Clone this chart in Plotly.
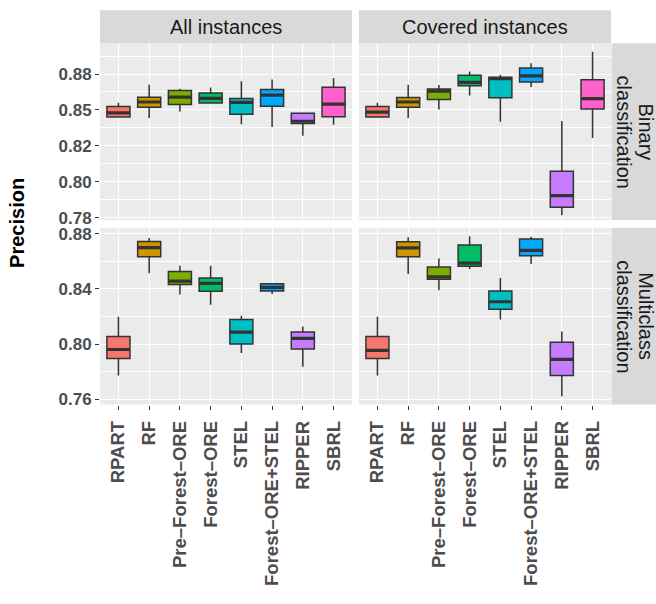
import plotly.graph_objects as go

# ---------------- data ----------------
methods = ["RPART", "RF", "Pre–Forest–ORE", "Forest–ORE", "STEL",
           "Forest–ORE+STEL", "RIPPER", "SBRL"]
colors = ["#F8766D", "#CD9600", "#7CAE00", "#00BE67", "#00BFC4",
          "#00A9FF", "#C77CFF", "#FF61CC"]

col_labels = ["All instances", "Covered instances"]
row_labels = [["Binary", "classification"], ["Multiclass", "classification"]]

# Binary classification, all instances
bin_all_lo  = [0.8448, 0.8444, 0.8489, 0.8549, 0.8400, 0.8381, 0.8320, 0.8397]
bin_all_q1  = [0.8450, 0.8519, 0.8537, 0.8549, 0.8470, 0.8526, 0.8405, 0.8452]
bin_all_med = [0.8480, 0.8555, 0.8589, 0.8581, 0.8552, 0.8603, 0.8421, 0.8540]
bin_all_q3  = [0.8523, 0.8589, 0.8636, 0.8617, 0.8579, 0.8642, 0.8477, 0.8657]
bin_all_hi  = [0.8550, 0.8676, 0.8647, 0.8656, 0.8700, 0.8712, 0.8477, 0.8723]

# Binary classification, covered instances
bin_cov_lo  = [0.8448, 0.8444, 0.8503, 0.8600, 0.8418, 0.8660, 0.7767, 0.8304]
bin_cov_q1  = [0.8450, 0.8519, 0.8572, 0.8669, 0.8585, 0.8694, 0.7822, 0.8507]
bin_cov_med = [0.8484, 0.8555, 0.8631, 0.8692, 0.8717, 0.8737, 0.7904, 0.8578]
bin_cov_q3  = [0.8523, 0.8587, 0.8645, 0.8742, 0.8728, 0.8792, 0.8073, 0.8710]
bin_cov_hi  = [0.8550, 0.8676, 0.8674, 0.8767, 0.8744, 0.8824, 0.8423, 0.8904]

# Multiclass classification, all instances (no SBRL)
mul_all_lo  = [0.7772, 0.8514, 0.8360, 0.8286, 0.7935, 0.8364, 0.7836, None]
mul_all_q1  = [0.7895, 0.8633, 0.8433, 0.8383, 0.8001, 0.8386, 0.7964, None]
mul_all_med = [0.7961, 0.8699, 0.8457, 0.8440, 0.8087, 0.8412, 0.8042, None]
mul_all_q3  = [0.8056, 0.8744, 0.8526, 0.8480, 0.8179, 0.8437, 0.8087, None]
mul_all_hi  = [0.8198, 0.8770, 0.8569, 0.8569, 0.8205, 0.8440, 0.8127, None]

# Multiclass classification, covered instances (no SBRL)
mul_cov_lo  = [0.7772, 0.8509, 0.8391, 0.8545, 0.8179, 0.8581, 0.7622, None]
mul_cov_q1  = [0.7895, 0.8633, 0.8471, 0.8564, 0.8253, 0.8640, 0.7772, None]
mul_cov_med = [0.7954, 0.8697, 0.8488, 0.8587, 0.8307, 0.8680, 0.7890, None]
mul_cov_q3  = [0.8056, 0.8743, 0.8559, 0.8718, 0.8386, 0.8762, 0.8013, None]
mul_cov_hi  = [0.8198, 0.8775, 0.8621, 0.8782, 0.8480, 0.8779, 0.8091, None]

bin_ticks = [0.775, 0.800, 0.825, 0.850, 0.875]
bin_tick_text = ["0.78", "0.80", "0.82", "0.85", "0.88"]
mul_ticks = [0.76, 0.80, 0.84, 0.88]
mul_tick_text = ["0.76", "0.80", "0.84", "0.88"]

y_title = "Precision"

# ---------------- layout geometry ----------------
W, H = 656, 604
col_px = [(100, 352), (359, 611)]
row_px = [(41, 221), (229, 409)]
row_ranges = [(0.7734, 0.8964), (0.7562, 0.8843)]
strip_top = (7.5, 41)
strip_right = (611.5, 660)

FONT = "Liberation Sans, Arial, sans-serif"
GRID = "white"
BOX_LINE = "#333333"
TXT = "#4D4D4D"

facets = [
    (0, 0, bin_all_lo, bin_all_q1, bin_all_med, bin_all_q3, bin_all_hi),
    (0, 1, bin_cov_lo, bin_cov_q1, bin_cov_med, bin_cov_q3, bin_cov_hi),
    (1, 0, mul_all_lo, mul_all_q1, mul_all_med, mul_all_q3, mul_all_hi),
    (1, 1, mul_cov_lo, mul_cov_q1, mul_cov_med, mul_cov_q3, mul_cov_hi),
]

def minor_from(ticks, lo, hi):
    step = ticks[1] - ticks[0]
    vals = [ticks[0] - step / 2] + [(a + b) / 2 for a, b in zip(ticks[:-1], ticks[1:])] + [ticks[-1] + step / 2]
    return [v for v in vals if lo <= v <= hi]

fig = go.Figure()
layout = {}
BW = 0.75

for k, (r, c, lo, q1, med, q3, hi) in enumerate(facets):
    n = k + 1
    xa = "x" if n == 1 else f"x{n}"
    ya = "y" if n == 1 else f"y{n}"
    mx, my = [], []
    for i, m in enumerate(methods):
        if med[i] is None:
            continue
        fig.add_trace(go.Box(
            x=[i + 1], q1=[q1[i]], median=[med[i]], q3=[q3[i]],
            lowerfence=[lo[i]], upperfence=[hi[i]],
            width=BW, whiskerwidth=0, fillcolor=colors[i],
            line=dict(color=BOX_LINE, width=1.5), boxpoints=False,
            name=m, showlegend=False, xaxis=xa, yaxis=ya, hoverinfo="skip"))
        mx += [i + 1 - BW / 2, i + 1 + BW / 2, None]
        my += [med[i], med[i], None]
    fig.add_trace(go.Scatter(x=mx, y=my, mode="lines",
                             line=dict(color=BOX_LINE, width=3.2),
                             showlegend=False, xaxis=xa, yaxis=ya, hoverinfo="skip"))

    x0, x1 = col_px[c]
    y0, y1 = row_px[r]
    ticks = bin_ticks if r == 0 else mul_ticks
    ttext = bin_tick_text if r == 0 else mul_tick_text
    yr = row_ranges[r]
    key_x = "xaxis" if n == 1 else f"xaxis{n}"
    key_y = "yaxis" if n == 1 else f"yaxis{n}"
    layout[key_x] = dict(
        domain=[x0 / W, x1 / W], anchor=ya, range=[0.4, len(methods) + 0.6],
        tickmode="array", tickvals=list(range(1, len(methods) + 1)), ticktext=methods,
        showticklabels=(r == 1), ticks="outside" if r == 1 else "",
        ticklen=4, tickwidth=1.1, tickcolor=BOX_LINE, tickangle=-90,
        ticklabelstandoff=4,
        tickfont=dict(family=FONT, size=18.5, color=TXT, weight="bold"),
        showgrid=True, gridcolor=GRID, gridwidth=1.4, zeroline=False, showline=False,
        fixedrange=True)
    layout[key_y] = dict(
        domain=[1 - y1 / H, 1 - y0 / H], anchor=xa, range=list(yr),
        tickmode="array", tickvals=ticks, ticktext=ttext,
        showticklabels=(c == 0), ticks="outside" if c == 0 else "",
        ticklen=4, tickwidth=1.1, tickcolor=BOX_LINE,
        tickfont=dict(family=FONT, size=17, color=TXT, weight="bold"),
        showgrid=True, gridcolor=GRID, gridwidth=1.4, zeroline=False, showline=False,
        minor=dict(tickvals=minor_from(ticks, yr[0], yr[1]), showgrid=True,
                   gridcolor=GRID, gridwidth=0.7, ticks=""),
        fixedrange=True)

shapes = []
annotations = []
for c, lab in enumerate(col_labels):
    x0, x1 = col_px[c]
    shapes.append(dict(type="rect", xref="paper", yref="paper",
                       x0=x0 / W, x1=x1 / W, y0=1 - strip_top[1] / H, y1=1 - strip_top[0] / H,
                       fillcolor="#D9D9D9", line=dict(width=0), layer="below"))
    annotations.append(dict(text=lab, xref="paper", yref="paper",
                            x=(x0 + x1) / 2 / W, y=1 - (strip_top[0] + strip_top[1]) / 2 / H,
                            xanchor="center", yanchor="middle", showarrow=False,
                            font=dict(family=FONT, size=20, color="#1A1A1A")))
for r, labs in enumerate(row_labels):
    y0, y1 = row_px[r]
    shapes.append(dict(type="rect", xref="paper", yref="paper",
                       x0=strip_right[0] / W, x1=strip_right[1] / W,
                       y0=1 - y1 / H, y1=1 - y0 / H,
                       fillcolor="#D9D9D9", line=dict(width=0), layer="below"))
    for j, lab in enumerate(labs):
        xc = 646 - 22 * j
        annotations.append(dict(text=lab, xref="paper", yref="paper",
                                x=xc / W, y=1 - (y0 + y1) / 2 / H, textangle=90,
                                xanchor="center", yanchor="middle", showarrow=False,
                                font=dict(family=FONT, size=20, color="#1A1A1A")))

annotations.append(dict(text=y_title, xref="paper", yref="paper",
                        x=17 / W, y=1 - 224 / H, textangle=-90,
                        xanchor="center", yanchor="middle", showarrow=False,
                        font=dict(family=FONT, size=20, color="black", weight="bold")))

fig.update_layout(
    width=W, height=H, margin=dict(l=0, r=0, t=0, b=0),
    paper_bgcolor="white", plot_bgcolor="#EBEBEB",
    boxmode="overlay", shapes=shapes, annotations=annotations,
    **layout)

fig.write_html("out.html", config={"displayModeBar": False},
               post_script="document.body.style.margin='0';document.body.style.overflow='hidden';")
